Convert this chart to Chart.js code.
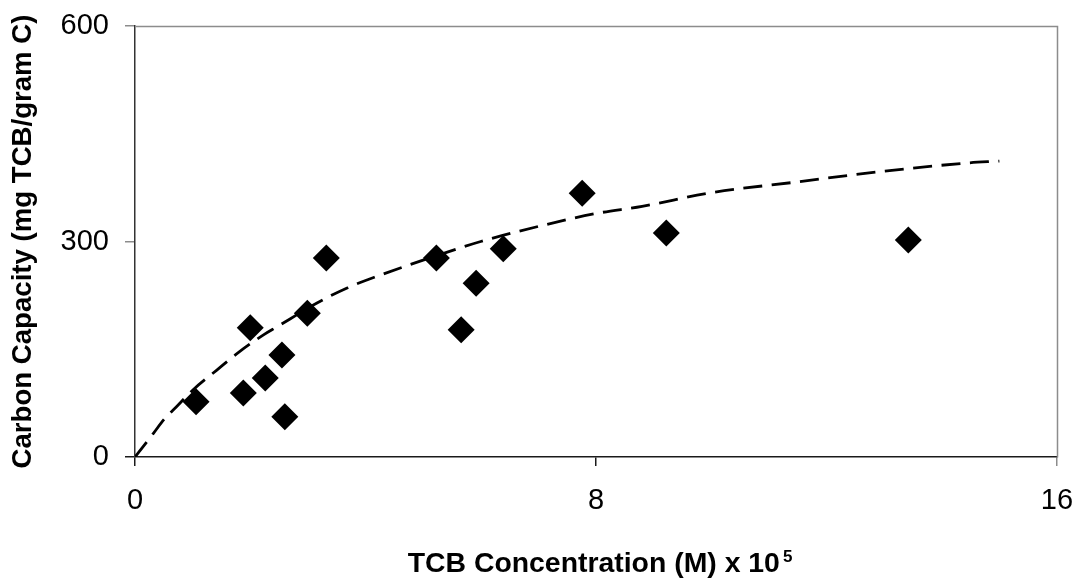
<!DOCTYPE html>
<html>
<head>
<meta charset="utf-8">
<script src="https://cdn.jsdelivr.net/npm/chart.js@4/dist/chart.umd.min.js"></script>
<style>
	body { margin: 0; background: #ffffff; }
	#capacity { display: block; }
</style>
</head>
<body>
<canvas id="capacity" width="1078" height="579"></canvas>
<script>
//
// Measured points : TCB concentration (M x 10^5) and carbon capacity.
//
const concentration = [ 1.06, 2.0, 1.88, 2.26, 2.55, 2.6, 2.99, 3.32, 5.23, 5.66, 5.92, 6.39, 7.76, 9.22, 13.42 ];
const capacity = [ 77, 180, 89, 110, 142, 56, 200, 277, 277, 177, 242, 290, 367, 312, 302 ];

//
// Fitted isotherm (dashed line).
//
const fit_x = [ 0, 0.32, 0.5, 0.72, 1.0, 1.42, 1.82, 2.23, 2.46, 3.15, 3.7, 4.25, 5.0, 6.0, 7.0, 8.0, 8.8, 10.0, 11.5, 12.9, 14.4, 15.0 ];
const fit_y = [ 0, 33, 52, 70, 93, 121, 147, 170, 181, 214, 236, 253, 274, 300, 321, 339, 349, 368, 383, 397, 409, 412 ];

// Tick labels of both axes.
const x_ticks = [ 0, 8, 16 ];
const y_ticks = [ 0, 300, 600 ];

const x_title = "TCB Concentration (M) x 10";
const x_title_exp = "5";
const y_title = "Carbon Capacity (mg TCB/gram C)";

const font_family = "'Liberation Sans', Arial, sans-serif";

//
// Plot frame (top and right gray lines) and x title with its exponent.
//
const frame_plugin = {
	id: "frame",
	beforeDatasetsDraw( chart )
	{
		const { ctx, chartArea } = chart;
		const left = Math.round( chartArea.left ) + 0.5;
		const right = Math.round( chartArea.right ) + 0.5;
		const top = Math.round( chartArea.top ) + 0.5;
		const bottom = Math.round( chartArea.bottom ) + 0.5;

		ctx.save();
		ctx.strokeStyle = "#8c8c8c";
		ctx.lineWidth = 1.5;
		ctx.beginPath();
		ctx.moveTo( left, top );
		ctx.lineTo( right, top );
		ctx.lineTo( right, bottom );
		ctx.stroke();
		ctx.restore();
	},
	afterDraw( chart )
	{
		const { ctx, chartArea } = chart;
		const center = ( chartArea.left + chartArea.right ) / 2 + 4;

		ctx.save();
		ctx.fillStyle = "#000000";
		ctx.textBaseline = "alphabetic";
		ctx.textAlign = "left";

		ctx.font = "bold 28.4px " + font_family;
		const main_width = ctx.measureText( x_title ).width;
		ctx.font = "bold 17px " + font_family;
		const exp_width = ctx.measureText( x_title_exp ).width;

		const start = center - ( main_width + exp_width + 3 ) / 2;

		ctx.font = "bold 28.4px " + font_family;
		ctx.fillText( x_title, start, 572 );
		ctx.font = "bold 17px " + font_family;
		ctx.fillText( x_title_exp, start + main_width + 3, 562 );
		ctx.restore();
	}
};

// Drops the label overhang that Chart.js adds around the plot.
const no_overhang = ( scale ) =>
{
	scale.paddingTop = 0;
	scale.paddingBottom = 0;
	scale.paddingLeft = 0;
	scale.paddingRight = 0;
};

new Chart( document.getElementById( "capacity" ),
	{
		type: "scatter",
		data: {
			datasets: [
				// Measured values (black diamonds).
				{
					data: concentration.map( ( x, i ) => ( { x: x, y: capacity[ i ] } ) ),
					pointStyle: "rectRot",
					pointRadius: 13.5,
					pointHoverRadius: 13.5,
					backgroundColor: "#000000",
					borderColor: "#000000",
					borderWidth: 0,
					order: 1
				},
				// Fitted curve (dashed).
				{
					data: fit_x.map( ( x, i ) => ( { x: x, y: fit_y[ i ] } ) ),
					showLine: true,
					pointRadius: 0,
					borderColor: "#000000",
					borderWidth: 2.8,
					borderDash: [ 19, 9.5 ],
					cubicInterpolationMode: "monotone",
					fill: false,
					order: 2
				}
			]
		},
		options: {
			responsive: false,
			animation: false,
			events: [],
			layout: {
				padding: { top: 26, right: 21, bottom: 0, left: 0 }
			},
			plugins: {
				legend: { display: false },
				tooltip: { enabled: false }
			},
			scales: {
				x: {
					type: "linear",
					min: 0,
					max: 16,
					afterBuildTicks: ( scale ) => { scale.ticks = x_ticks.map( v => ( { value: v } ) ); },
					afterFit: ( scale ) => { scale.height = 122; no_overhang( scale ); },
					border: {
						display: true,
						color: "#1a1a1a",
						width: 1.5
					},
					grid: {
						drawOnChartArea: false,
						drawTicks: true,
						tickLength: 9,
						color: [ "#1a1a1a", "#1a1a1a", "#8c8c8c" ],
						lineWidth: 1.5
					},
					ticks: {
						color: "#000000",
						padding: 18,
						maxRotation: 0,
						font: {
							size: 29,
							family: font_family
						}
					}
				},
				y: {
					type: "linear",
					min: 0,
					max: 600,
					afterBuildTicks: ( scale ) => { scale.ticks = y_ticks.map( v => ( { value: v } ) ); },
					afterFit: ( scale ) => { scale.width = 135; no_overhang( scale ); },
					border: {
						display: true,
						color: "#333333",
						width: 1.5
					},
					grid: {
						drawOnChartArea: false,
						drawTicks: true,
						tickLength: 10,
						color: [ "#1a1a1a", "#8c8c8c", "#8c8c8c" ],
						lineWidth: 1.5
					},
					ticks: {
						color: "#000000",
						padding: 16,
						font: {
							size: 29,
							family: font_family
						}
					},
					title: {
						display: true,
						text: y_title,
						color: "#000000",
						font: {
							size: 27.6,
							family: font_family,
							weight: "bold"
						},
						padding: { top: 7, bottom: 0 }
					}
				}
			}
		},
		plugins: [ frame_plugin ]
	} );
</script>
</body>
</html>
